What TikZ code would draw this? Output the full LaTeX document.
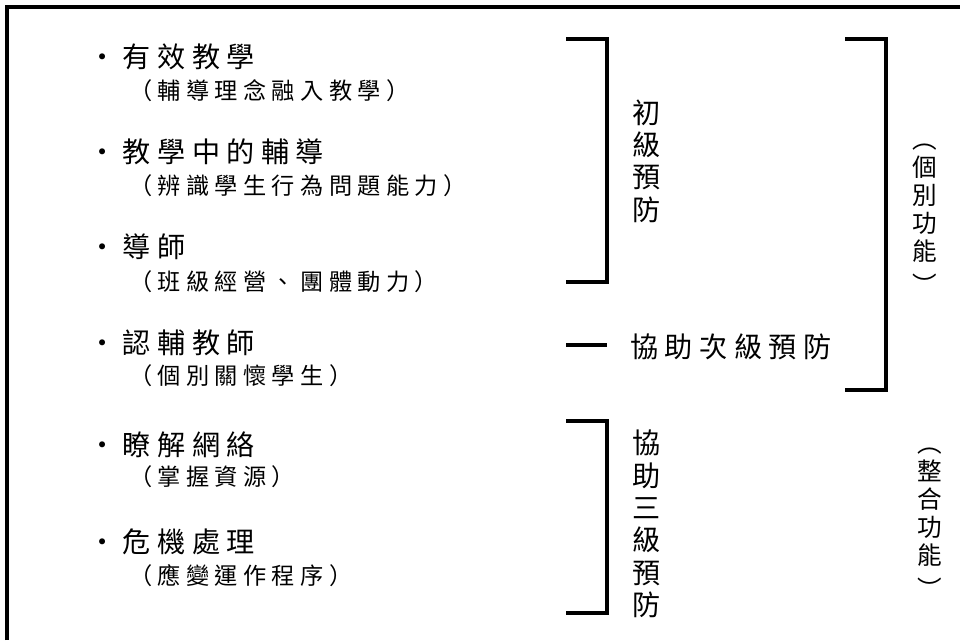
\documentclass[tikz,border=0pt]{standalone}
\usepackage{fontspec}
\newfontfamily\twfont[LetterSpace=23]{Noto Sans CJK TC}
\newfontfamily\twvert{Noto Sans CJK TC}
\tikzset{
  item/.style={anchor=west,inner sep=0pt,font=\twfont\fontsize{20}{24}\selectfont},
  note/.style={anchor=west,inner sep=0pt,font=\twfont\fontsize{16.5}{20}\selectfont},
  vtext/.style={inner sep=0pt,align=center,font=\twvert\fontsize{20}{23}\selectfont},
  vparen/.style={inner sep=0pt,align=center,font=\twvert\fontsize{17.5}{20}\selectfont},
  bar/.style={line width=2.2pt,line join=miter}
}
\begin{document}
\begin{tikzpicture}[x=0.025cm,y=-0.025cm]
                \useasboundingbox (0,0) rectangle (960,640);
                \draw[bar] (7,640) -- (7,7) -- (960,7);
                \node[item] (eff) at (88,57) {・有效教學};
                \node[note] (effn) at (129,91) {（輔導理念融入教學）};
                \node[item] (guide) at (88,152) {・教學中的輔導};
                \node[note] (guiden) at (129,186) {（辨識學生行為問題能力）};
                \node[item] (tutor) at (88,247) {・導師};
                \node[note] (tutorn) at (129,282) {（班級經營、團體動力）};
                \node[item] (mentor) at (88,343) {・認輔教師};
                \node[note] (mentorn) at (129,376) {（個別關懷學生）};
                \node[item] (net) at (88,445) {・瞭解網絡};
                \node[note] (netn) at (129,477) {（掌握資源）};
                \node[item] (crisis) at (88,542) {・危機處理};
                \node[note] (crisisn) at (129,576) {（應變運作程序）};
                \draw[bar] (566,39) -- (607,39) -- (607,282) -- (566,282);
                \node[vtext] (first) at (647,161) {初\\級\\預\\防};
                \draw[bar] (566,345) -- (607,345);
                \node[item] (second) at (630,347) {協助次級預防};
                \draw[bar] (566,421) -- (607,421) -- (607,613) -- (566,613);
                \node[vtext] (third) at (647,524) {協\\助\\三\\級\\預\\防};
                \draw[bar] (845,39) -- (886,39) -- (886,390) -- (845,390);
                \node[vparen] (indiv) at (925,219) {︵\\個\\別\\功\\能\\[4pt]︶};
                \node[vparen] (integ) at (930,523) {︵\\整\\合\\功\\能\\[4pt]︶};
            \end{tikzpicture}
\end{document}
